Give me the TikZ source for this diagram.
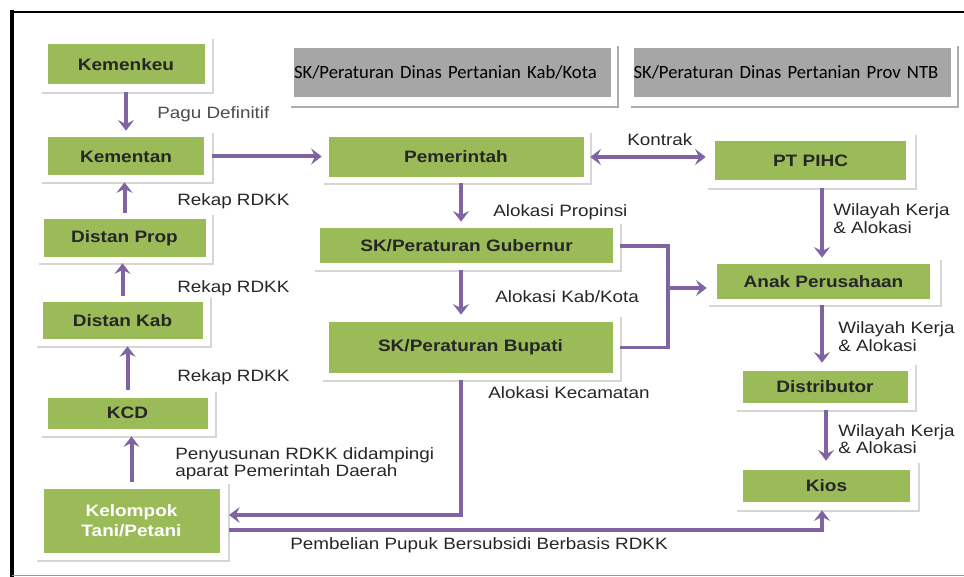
\documentclass[tikz,border=0pt]{standalone}
\usepackage{fontspec}
\setmainfont{Liberation Sans}[FakeStretch=1.15]
\newfontfamily\grayfont{Carlito}
\usetikzlibrary{arrows.meta,shadows,calc}
\definecolor{gfill}{HTML}{9BBB59}
\definecolor{purp}{HTML}{8064A2}
\definecolor{gboxc}{HTML}{A6A6A6}
\newcommand\gcard[8]{%
  \node[card, minimum width=#4*0.75pt, minimum height=#5*0.75pt] (#1C) at (#2,#3) {};
  \node[gbox, minimum width=#6*0.75pt, minimum height=#7*0.75pt] (#1) at (#2,#3) {#8};
}
\begin{document}
\begin{tikzpicture}[x=0.75pt,y=-0.75pt,
  card/.style={fill=white, inner sep=0pt, drop shadow={shadow xshift=1.2pt,shadow yshift=-1.2pt,fill=black!16,opacity=1}},
  gbox/.style={fill=gfill, inner sep=0pt, align=center, text=black!85, font=\bfseries\fontsize{12.4}{15}\selectfont},
  graycard/.style={fill=white, inner sep=0pt, minimum width=246pt, minimum height=46.5pt, drop shadow={shadow xshift=1.5pt,shadow yshift=-1.5pt,fill=black!32,opacity=1}},
  graybox/.style={fill=gboxc, inner xsep=0pt, inner ysep=0pt, text width=237.75pt, minimum height=36.75pt, align=left, text=black, font=\grayfont\fontsize{14}{16}\selectfont},
  flow/.style={draw=purp, line width=3pt, -{Stealth[length=8pt,width=12pt,inset=3pt]}},
  twoway/.style={draw=purp, line width=3pt, {Stealth[length=8pt,width=12pt,inset=3pt]}-{Stealth[length=8pt,width=12pt,inset=3pt]}},
  pline/.style={draw=purp, line width=2.6pt},
  lab/.style={anchor=west, inner sep=0pt, align=left, text=black!85, font=\fontsize{12.3}{13}\selectfont}
]
\useasboundingbox (0,0) rectangle (964,577);
% frame
\draw[line width=2.2pt] (10,12) -- (964,12);
\draw[line width=3.6pt] (12,10) -- (12,577);
\draw[black!40, line width=1.1pt] (12,575.5) -- (964,575.5);

% gray boxes
\node[graycard] (g1C) at (453,75) {};
\node[graybox] (g1) at (452.5,72.5) {SK/Peraturan Dinas Pertanian Kab/Kota};
\node[graycard] (g2C) at (793,75) {};
\node[graybox] (g2) at (792,72.5) {SK/Peraturan Dinas Pertanian Prov NTB};

% green cards
\gcard{kemenkeu}{126}{64.5}{172}{55}{157}{40}{Kemenkeu}
\gcard{kementan}{126}{156.5}{172}{51}{156}{38}{Kementan}
\gcard{distanprop}{124.5}{238}{175}{50}{162}{38}{Distan Prop}
\gcard{distankab}{122.5}{321}{175}{50}{160}{37}{Distan Kab}
\gcard{kcd}{127.5}{413}{175}{46}{160}{31}{KCD}
\gcard{kelompok}{131.5}{521}{193}{78}{176}{64}{\color{white}Kelompok\\\color{white}Tani/Petani}
\gcard{pemerintah}{456}{157}{268}{52}{255}{40}{Pemerintah}
\gcard{gubernur}{466.5}{246}{307}{48}{293}{35}{SK/Peraturan Gubernur}
\gcard{bupati}{470.5}{347.5}{299}{65}{284}{51}{SK/Peraturan Bupati}
\gcard{ptpihc}{810.5}{160.5}{209}{55}{191}{39}{PT PIHC}
\gcard{anak}{823.5}{281.5}{233}{47}{213}{35}{Anak Perusahaan}
\gcard{distributor}{825}{386.5}{180}{47}{165}{32}{Distributor}
\gcard{kios}{826.5}{485.5}{183}{49}{167}{32}{Kios}

% helper coordinates
\coordinate (cx) at (461,0);
\coordinate (rx) at (822,0);
\coordinate (brT) at (668,246);
\coordinate (brB) at (668,347.5);
\coordinate (brM) at (668,288);
\coordinate (kin) at (229,515);
\coordinate (kout) at (229,530);

% left column
\draw[flow] (kemenkeuC.south) -- (kementanC.north);
\draw[flow] (distanpropC.north) -- (distanpropC.north |- kementanC.south);
\draw[flow] (distankabC.north) -- (distankabC.north |- distanpropC.south);
\draw[flow] (kcdC.north) -- (kcdC.north |- distankabC.south);
\draw[flow] (kelompokC.north) -- (kelompokC.north |- kcdC.south);
\draw[flow] (kementanC.east) -- (kementanC.east -| pemerintahC.west);

% middle
\draw[flow] (cx |- pemerintahC.south) -- (cx |- gubernurC.north);
\draw[flow] (cx |- gubernurC.south) -- (cx |- bupatiC.north);
\draw[twoway] (pemerintahC.east) -- (pemerintahC.east -| ptpihcC.west);
\draw[pline] (gubernurC.east) -- (brT) -- (brB) -- (bupatiC.east);
\draw[flow] (brM) -- (brM -| anakC.west);

% right column
\draw[flow] (rx |- ptpihcC.south) -- (rx |- anakC.north);
\draw[flow] (rx |- anakC.south) -- (rx |- distributorC.north);
\draw[flow] ([xshift=3pt]rx |- distributorC.south) -- ([xshift=3pt]rx |- kiosC.north);

% bottom
\draw[pline, -{Stealth[length=8pt,width=12pt,inset=3pt]}] (cx |- bupatiC.south) |- (kin);
\draw[pline, -{Stealth[length=8pt,width=12pt,inset=3pt]}] (kout) -| (rx |- kiosC.south);

% labels
\node[lab, text=black!70] (l1) at (157,114) {Pagu Definitif};
\node[lab] (l2) at (177,201) {Rekap RDKK};
\node[lab] (l3) at (177,288) {Rekap RDKK};
\node[lab] (l4) at (177,377) {Rekap RDKK};
\node[lab] (l5) at (175,463.5) {Penyusunan RDKK didampingi\\aparat Pemerintah Daerah};
\node[lab] (l6) at (493,212) {Alokasi Propinsi};
\node[lab] (l7) at (495,297) {Alokasi Kab/Kota};
\node[lab] (l8) at (488,393) {Alokasi Kecamatan};
\node[lab] (l9) at (627,140) {Kontrak};
\node[lab] (l10) at (833,218.5) {Wilayah Kerja\\\& Alokasi};
\node[lab] (l11) at (838,336.5) {Wilayah Kerja\\\& Alokasi};
\node[lab] (l12) at (838,439) {Wilayah Kerja\\\& Alokasi};
\node[lab] (l13) at (290,545) {Pembelian Pupuk Bersubsidi Berbasis RDKK};
\end{tikzpicture}
\end{document}
